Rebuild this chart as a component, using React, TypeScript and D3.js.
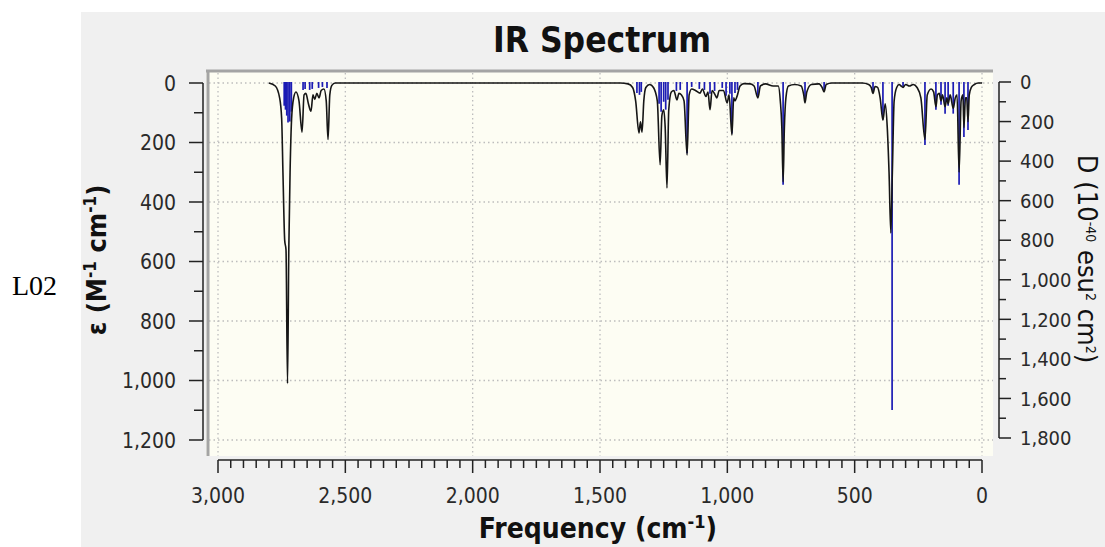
import * as d3 from "d3";

// tick values
const freqTicks = [3000, 2500, 2000, 1500, 1000, 500, 0];
const epsTicks = [0, 200, 400, 600, 800, 1000, 1200];
const dTicks = [0, 200, 400, 600, 800, 1000, 1200, 1400, 1600, 1800];

// broadened spectrum (black): frequency (cm-1) and epsilon
const curveFreq = [
  2800, 2775, 2758, 2750, 2745, 2738, 2733, 2727, 2722, 2717, 2711, 2703, 2694, 2682, 2670, 2662,
  2655, 2645, 2635, 2627, 2620, 2612, 2603, 2595, 2584, 2575, 2568, 2561, 2553, 2540, 1420,
  1390, 1372, 1360, 1347, 1341, 1335, 1328, 1320, 1305, 1290, 1275, 1264, 1257, 1250, 1244, 1237,
  1230, 1220, 1210, 1198, 1190, 1180, 1170, 1158, 1150, 1140, 1125, 1107, 1098, 1084, 1076, 1068,
  1060, 1048, 1041, 1032, 1015, 1001, 993, 982, 975, 970, 962, 950, 935, 910, 895, 880, 870, 850,
  820, 800, 792, 786, 781, 776, 770, 760, 735, 710, 700, 695, 688, 670, 640, 628, 620, 612, 590, 470,
  445, 435, 428, 420, 410, 400, 389, 380, 372, 365, 358, 352, 345, 335, 325, 318, 310, 300, 285,
  270, 255, 240, 224, 215, 200, 190, 181, 175, 168, 161, 155, 145, 138, 133, 125, 113, 105, 98, 90,
  82, 75, 71, 65, 60, 55, 50, 42, 30, 15, 0,
];
const curveEps = [
  0, 10, 50, 120, 300, 530, 560, 1010, 560, 300, 120, 50, 30, 60, 165, 40,
  35, 70, 95, 40, 55, 35, 50, 25, 20, 60, 190, 40, 8, 0, 0,
  3, 15, 60, 168, 130, 165, 60, 15, 5, 15, 60, 275, 110, 90, 150, 353,
  90, 30, 25, 57, 35, 40, 60, 242, 40, 20, 25, 34, 20, 45, 30, 90,
  25, 40, 50, 25, 25, 67, 40, 175, 50, 60, 45, 10, 2, 3, 10, 50, 10, 3,
  10, 10, 60, 150, 333, 150, 50, 10, 5, 10, 40, 67, 30, 5, 3, 15, 30, 5, 0, 0,
  5, 15, 35, 12, 15, 50, 125, 70, 150, 300, 504, 300, 60, 15, 5, 10, 15, 5, 10,
  5, 15, 50, 190, 40, 20, 30, 80, 40, 35, 60, 40, 80, 50, 70, 40, 85, 50, 40, 300,
  60, 40, 150, 50, 50, 130, 40, 15, 5, 0, 0,
];

// stick spectrum (blue): frequency and dipole strength D
const stickFreq = [
  2740, 2735, 2730, 2725, 2718, 2712, 2666, 2658, 2640, 2630, 2605, 2590, 2572,
  1355, 1345, 1338, 1268, 1260, 1250, 1242, 1233, 1200, 1185, 1158, 1140, 1110, 1090, 1068, 1050,
  1020, 1005, 990, 982, 970, 960, 880, 781, 695, 620,
  428, 389, 353, 310, 224, 181, 161, 145, 133, 113, 90, 71, 55,
];
const stickD = [
  120, 140, 170, 205, 200, 150, 40, 35, 40, 35, 30, 25, 30,
  55, 65, 50, 110, 150, 100, 140, 90, 45, 40, 360, 25, 35, 40, 60, 45,
  30, 70, 60, 260, 55, 40, 70, 520, 95, 45,
  55, 190, 1658, 25, 318, 140, 115, 160, 120, 160, 520, 278, 243,
];

const W = 1105;
const H = 547;
const FONT = "'DejaVu Sans Condensed', 'DejaVu Sans', sans-serif";

export default function App() {
  const x = d3.scaleLinear().domain([3000, 0]).range([218, 982]);
  const yL = d3.scaleLinear().domain([0, 1200]).range([83, 440]);
  const yR = d3.scaleLinear().domain([0, 1800]).range([82, 438]);
  const fmt = d3.format(",");

  const pts = curveFreq.map((f, i) => [f, curveEps[i]] as [number, number]);
  const line = d3
    .line<[number, number]>()
    .x((d) => x(d[0]))
    .y((d) => yL(d[1]))
    .curve(d3.curveMonotoneX);

  const minorX = d3.range(3000, -1, -50);
  const minorL = d3.range(0, 1201, 100);
  const minorR = d3.range(0, 1801, 100);

  const plot = { x0: 206, x1: 993, y0: 70, y1: 456 };

  return (
    <svg
      width={W}
      height={H}
      style={{ position: "absolute", left: 0, top: 0, display: "block" }}
    >
      <rect x={0} y={0} width={W} height={H} fill="#ffffff" />
      <rect x={81} y={12} width={W - 81} height={H - 12} fill="#f0f0f0" />
      <text x={12} y={295} fontFamily="'Liberation Serif', 'Times New Roman', serif" fontSize={28} fill="#000">
        L02
      </text>

      {/* plot background */}
      <rect x={plot.x0} y={plot.y0} width={plot.x1 - plot.x0} height={plot.y1 - plot.y0} fill="#fdfdf3" />

      {/* dotted grid */}
      <g stroke="#bdbdbd" strokeWidth={1.3} strokeDasharray="1.5 3">
        {epsTicks.map((t) => (
          <line key={"gh" + t} x1={plot.x0 + 3} x2={plot.x1} y1={yL(t)} y2={yL(t)} />
        ))}
        {freqTicks.map((t) => (
          <line key={"gv" + t} x1={x(t)} x2={x(t)} y1={plot.y0 + 3} y2={plot.y1} />
        ))}
      </g>

      {/* frame top + left */}
      <line x1={plot.x0} x2={plot.x1} y1={71} y2={71} stroke="#a4a4a4" strokeWidth={3} />
      <line x1={208} x2={208} y1={plot.y0} y2={plot.y1} stroke="#a4a4a4" strokeWidth={3} />

      {/* sticks */}
      <g stroke="#1c1cb4" strokeWidth={1.7}>
        {stickFreq.map((f, i) => (
          <line key={"s" + i} x1={x(f)} x2={x(f)} y1={yR(0)} y2={yR(stickD[i])} />
        ))}
      </g>

      {/* broadened curve */}
      <path d={line(pts) || ""} fill="none" stroke="#161616" strokeWidth={1.6} strokeLinejoin="round" />

      {/* left axis */}
      <g stroke="#222" strokeWidth={1.5}>
        <line x1={203} x2={203} y1={yL(0)} y2={yL(1200)} />
        {minorL.map((t) => (
          <line key={"lt" + t} x1={t % 200 === 0 ? 189 : 194} x2={203} y1={yL(t)} y2={yL(t)} />
        ))}
      </g>
      {epsTicks.map((t) => (
        <text
          key={"ll" + t}
          x={176}
          y={yL(t)}
          dy="0.36em"
          textAnchor="end"
          fontFamily={FONT}
          fontSize={21}
          fill="#2a2a2a"
        >
          {fmt(t)}
        </text>
      ))}

      {/* right axis */}
      <g stroke="#222" strokeWidth={1.5}>
        <line x1={999} x2={999} y1={yR(0)} y2={yR(1800)} />
        {minorR.map((t) => (
          <line key={"rt" + t} x1={999} x2={t % 200 === 0 ? 1011 : 1006} y1={yR(t)} y2={yR(t)} />
        ))}
      </g>
      {dTicks.map((t) => (
        <text key={"rl" + t} x={1020} y={yR(t)} dy="0.36em" fontFamily={FONT} fontSize={20} fill="#2a2a2a">
          {fmt(t)}
        </text>
      ))}

      {/* bottom axis */}
      <g stroke="#222" strokeWidth={1.5}>
        <line x1={x(3000)} x2={x(0)} y1={460} y2={460} />
        {minorX.map((t) => (
          <line key={"bt" + t} x1={x(t)} x2={x(t)} y1={460} y2={t % 500 === 0 ? 473 : 468} />
        ))}
      </g>
      {freqTicks.map((t) => (
        <text key={"bl" + t} x={x(t)} y={503} textAnchor="middle" fontFamily={FONT} fontSize={21} fill="#2a2a2a">
          {fmt(t)}
        </text>
      ))}

      {/* titles */}
      <text x={602} y={52} textAnchor="middle" fontFamily={FONT} fontWeight="bold" fontSize={35} fill="#111">
        IR Spectrum
      </text>
      <text x={598} y={538} textAnchor="middle" fontFamily={FONT} fontWeight="bold" fontSize={28} fill="#111">
        Frequency (cm
        <tspan baselineShift="super" fontSize={18}>-1</tspan>)
      </text>
      <text
        transform="translate(106,260) rotate(-90)"
        textAnchor="middle"
        fontFamily={FONT}
        fontWeight="bold"
        fontSize={27}
        fill="#111"
      >
        ε (M<tspan baselineShift="super" fontSize={17}>-1</tspan> cm
        <tspan baselineShift="super" fontSize={17}>-1</tspan>)
      </text>
      <text
        transform="translate(1078,259) rotate(90)"
        textAnchor="middle"
        fontFamily={FONT}
        fontSize={27}
        fill="#111"
      >
        D (10<tspan baselineShift="super" fontSize={14}>-40</tspan> esu
        <tspan baselineShift="super" fontSize={14}>2</tspan> cm
        <tspan baselineShift="super" fontSize={14}>2</tspan>)
      </text>
    </svg>
  );
}
